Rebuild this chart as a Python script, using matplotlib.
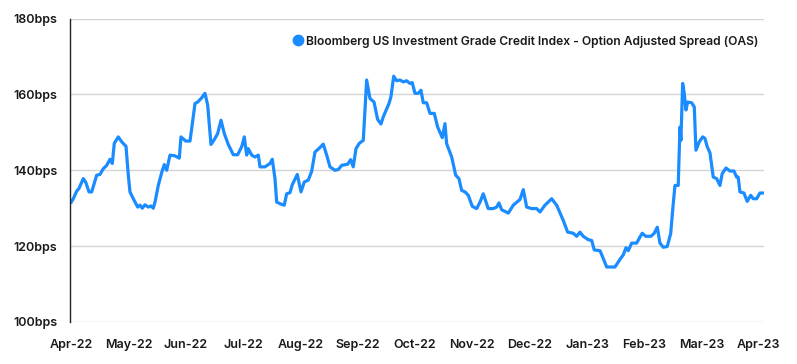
import matplotlib
matplotlib.use("Agg")
import matplotlib.pyplot as plt
from matplotlib.lines import Line2D

# Month labels (evenly spaced categories on the x axis)
month_labels = ["Apr-22", "May-22", "Jun-22", "Jul-22", "Aug-22", "Sep-22", "Oct-22",
                "Nov-22", "Dec-22", "Jan-23", "Feb-23", "Mar-23", "Apr-23"]

# Position of each observation in months since Apr-22
month_pos = [0.0, 0.035, 0.094, 0.134, 0.209, 0.251, 0.309, 0.356, 0.443, 0.501,
             0.558, 0.618, 0.675, 0.716, 0.750, 0.820, 0.880, 0.955, 0.995, 1.024,
             1.082, 1.159, 1.199, 1.239, 1.286, 1.344, 1.391, 1.431, 1.461, 1.518,
             1.578, 1.623, 1.665, 1.723, 1.810, 1.885, 1.914, 1.997, 2.072, 2.159,
             2.206, 2.276, 2.333, 2.380, 2.438, 2.508, 2.555, 2.613, 2.670, 2.740,
             2.827, 2.904, 2.974, 3.019, 3.061, 3.089, 3.148, 3.206, 3.264, 3.293,
             3.380, 3.468, 3.508, 3.555, 3.585, 3.672, 3.717, 3.759, 3.817, 3.857,
             3.944, 4.009, 4.066, 4.136, 4.195, 4.253, 4.340, 4.398, 4.457, 4.515,
             4.602, 4.660, 4.719, 4.824, 4.876, 4.921, 4.969, 5.026, 5.096, 5.155,
             5.213, 5.283, 5.347, 5.405, 5.445, 5.545, 5.579, 5.627, 5.679, 5.736,
             5.794, 5.853, 5.911, 5.951, 5.998, 6.056, 6.103, 6.143, 6.202, 6.260,
             6.335, 6.394, 6.475, 6.522, 6.551, 6.639, 6.709, 6.766, 6.813, 6.871,
             6.929, 6.998, 7.075, 7.133, 7.190, 7.277, 7.365, 7.424, 7.464, 7.511,
             7.627, 7.714, 7.831, 7.888, 7.948, 8.035, 8.122, 8.180, 8.267, 8.384,
             8.471, 8.586, 8.663, 8.761, 8.820, 8.878, 8.935, 9.023, 9.082, 9.127,
             9.227, 9.267, 9.344, 9.489, 9.576, 9.634, 9.681, 9.721, 9.780, 9.867,
             9.925, 9.965, 10.024, 10.117, 10.174, 10.227, 10.274, 10.332, 10.401, 10.461,
             10.506, 10.536, 10.593, 10.623, 10.640, 10.670, 10.698, 10.728, 10.757, 10.827,
             10.873, 10.902, 10.960, 11.019, 11.059, 11.099, 11.147, 11.204, 11.264, 11.321,
             11.360, 11.426, 11.496, 11.565, 11.612, 11.640, 11.670, 11.740, 11.797, 11.857,
             11.902, 11.962, 12.019, 12.077]

# Bloomberg US IG Credit Index OAS (bps)
oas_bps = [131.6, 132.5, 134.5, 135.2, 137.8, 136.9, 134.3, 134.3, 138.7, 138.9,
           140.4, 141.3, 142.9, 141.8, 147.1, 148.8, 147.5, 146.3, 138.7, 134.3,
           132.5, 130.3, 130.8, 130.0, 130.9, 130.3, 130.6, 130.0, 131.6, 136.0,
           139.4, 141.5, 140.0, 144.0, 143.8, 143.2, 148.8, 147.7, 147.7, 157.6,
           158.0, 159.1, 160.3, 157.2, 146.8, 148.4, 149.7, 153.2, 149.7, 146.8,
           144.1, 144.1, 146.2, 148.8, 144.0, 145.7, 144.0, 143.5, 144.0, 140.9,
           140.9, 141.8, 142.9, 137.8, 131.6, 131.0, 130.8, 133.8, 134.1, 136.2,
           138.9, 134.3, 136.9, 137.4, 139.7, 144.8, 146.0, 146.9, 144.0, 140.9,
           140.0, 140.2, 141.3, 141.6, 142.8, 140.9, 145.7, 147.1, 147.9, 163.8,
           158.9, 158.0, 153.4, 152.2, 154.1, 157.6, 159.4, 164.8, 163.6, 163.8,
           163.3, 163.6, 162.9, 163.1, 160.3, 160.3, 161.1, 157.8, 157.8, 155.0,
           155.0, 151.4, 148.6, 152.3, 147.0, 143.5, 138.7, 137.8, 134.7, 134.3,
           133.4, 130.5, 129.9, 131.6, 133.8, 129.9, 129.9, 130.3, 131.4, 129.6,
           128.7, 130.8, 132.3, 134.9, 130.3, 129.9, 129.9, 129.0, 130.8, 132.5,
           130.8, 126.8, 123.7, 123.4, 122.6, 123.7, 122.6, 121.7, 121.5, 119.0,
           118.8, 117.4, 114.5, 114.5, 116.5, 117.7, 119.6, 118.8, 120.8, 120.8,
           122.4, 123.4, 122.6, 122.6, 123.4, 125.0, 120.8, 119.7, 119.9, 123.3,
           131.2, 136.0, 136.0, 151.4, 147.9, 162.9, 160.3, 155.9, 158.0, 157.8,
           156.7, 145.3, 147.5, 148.8, 148.4, 146.2, 144.6, 138.2, 137.8, 136.0,
           139.1, 140.6, 139.8, 139.8, 138.2, 138.2, 134.3, 134.0, 131.8, 133.4,
           132.5, 132.5, 134.0, 134.0]

y_ticks = [100, 120, 140, 160, 180]
y_tick_labels = ["100bps", "120bps", "140bps", "160bps", "180bps"]
series_label = "Bloomberg US Investment Grade Credit Index - Option Adjusted Spread (OAS)"

BLUE = "#1a8cff"
TEXT = "#1a1a1a"
plt.rcParams["font.family"] = ["Inter", "DejaVu Sans"]

fig = plt.figure(figsize=(7.97, 3.64), dpi=100)
ax = fig.add_axes([0.0878, 0.1154, 0.8708, 0.8336])

ax.plot(month_pos, oas_bps, color=BLUE, lw=2.3, solid_joinstyle="round", zorder=3)

ax.set_ylim(100, 180)
ax.set_xlim(-0.023, 12.09)
ax.set_yticks(y_ticks)
ax.set_yticklabels(y_tick_labels)
ax.set_xticks(range(len(month_labels)))
ax.set_xticklabels(month_labels)
ax.tick_params(axis="both", length=0, labelsize=9.0, colors=TEXT)
ax.tick_params(axis="y", pad=9)
ax.tick_params(axis="x", pad=12)
for lab in ax.get_xticklabels() + ax.get_yticklabels():
    lab.set_fontweight("semibold")

ax.grid(axis="y", color="#d4d4d4", lw=1.0)
ax.set_axisbelow(True)
for s in ["top", "right", "bottom"]:
    ax.spines[s].set_visible(False)
ax.spines["left"].set_color("#222222")
ax.spines["left"].set_linewidth(1.0)
ax.spines["left"].set_zorder(4)

handle = Line2D([], [], marker="o", ls="none", color=BLUE, markersize=7.5)
leg = ax.legend([handle], [series_label], loc="upper right",
                bbox_to_anchor=(1.008, 0.98), frameon=False, handlelength=0.8,
                handletextpad=0.25, prop={"size": 8.7, "weight": "semibold"})
for t in leg.get_texts():
    t.set_color(TEXT)

fig.savefig("out.png", dpi=100, facecolor="white")
